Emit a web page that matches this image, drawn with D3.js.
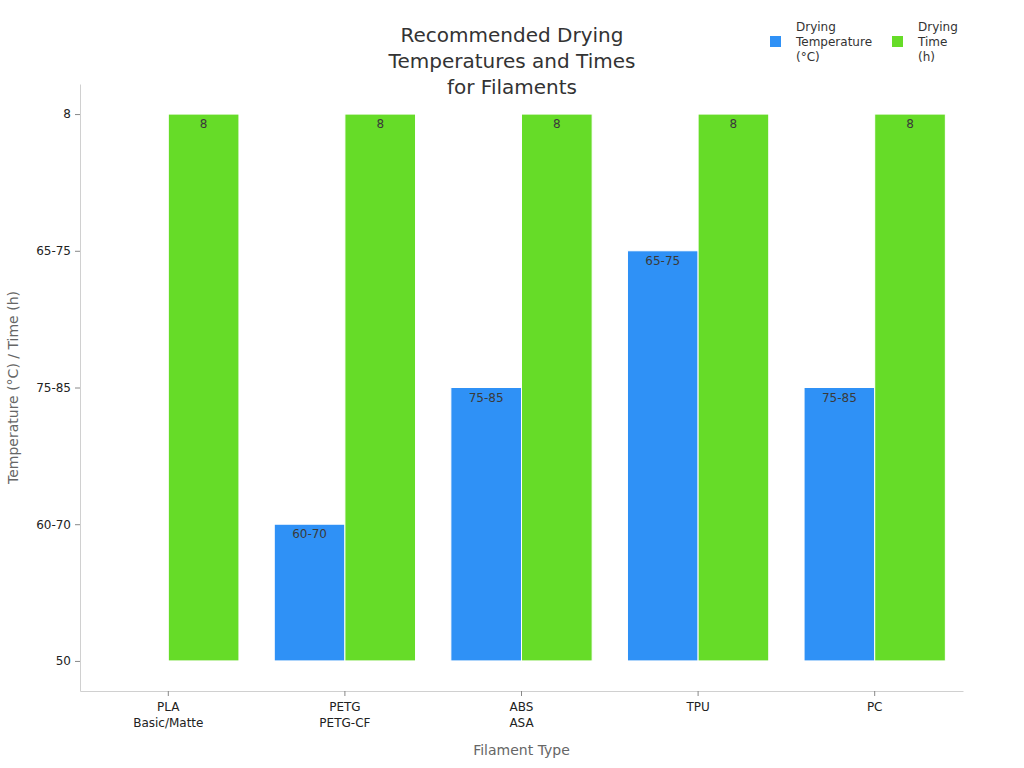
<!DOCTYPE html>
<html>
<head>
<meta charset="utf-8">
<script src="https://cdn.jsdelivr.net/npm/d3@7"></script>
<style>
  body { margin: 0; background: #fff; }
  text { font-family: "DejaVu Sans", sans-serif; }
</style>
</head>
<body>
<div id="chart"></div>
<script>
// data
const filaments = ["PLA\nBasic/Matte", "PETG\nPETG-CF", "ABS\nASA", "TPU", "PC"];
const levels = ["50", "60-70", "75-85", "65-75", "8"];   // y categories, bottom to top
const tempValues = ["50", "60-70", "75-85", "65-75", "75-85"];
const timeValues = ["8", "8", "8", "8", "8"];
const seriesNames = ["Drying Temperature (°C)", "Drying Time (h)"];
const colors = ["#2f91f6", "#66dc28"];

const width = 1024, height = 768;
const plotLeft = 80, plotRight = 963, plotTop = 84, plotBottom = 691;

const svg = d3.select("#chart").append("svg")
  .attr("width", width).attr("height", height);

const x = d3.scaleBand().domain(filaments).range([plotLeft, plotRight])
  .paddingInner(0.2).paddingOuter(0.1);
const sub = d3.scaleBand().domain([0, 1]).range([0, x.bandwidth()]);
const y = d3.scalePoint().domain(levels).range([plotBottom, plotTop]).padding(0.22);

// axes
const yAxis = svg.append("g").attr("transform", `translate(${plotLeft},0)`)
  .call(d3.axisLeft(y).tickSize(5).tickSizeOuter(0).tickPadding(4));
const xAxis = svg.append("g").attr("transform", `translate(0,${plotBottom})`)
  .call(d3.axisBottom(x).tickSize(5).tickSizeOuter(0).tickPadding(6));
[xAxis, yAxis].forEach(a => {
  a.select(".domain").attr("stroke", "#d0d0d0");
  a.selectAll(".tick line").attr("stroke", "#888");
  a.selectAll("text").attr("fill", "#222").style("font-size", "12px");
});
xAxis.selectAll(".tick text").each(function(d) {
  const t = d3.select(this).text(null);
  d.split("\n").forEach((s, i) => {
    t.append("tspan").attr("x", 0).attr("dy", i ? "1.35em" : "0.71em").text(s);
  });
});

// bars
const rows = filaments.map((f, i) => ({f, vals: [tempValues[i], timeValues[i]]}));
const groups = svg.append("g").selectAll("g").data(rows).join("g")
  .attr("transform", d => `translate(${x(d.f)},0)`);
const bars = groups.selectAll("g").data(d => d.vals.map((v, k) => ({v, k}))).join("g");
bars.append("rect")
  .attr("x", d => sub(d.k))
  .attr("width", sub.bandwidth())
  .attr("y", d => y(d.v))
  .attr("height", d => y(levels[0]) - y(d.v))
  .attr("fill", d => colors[d.k])
  .attr("stroke", "#fff").attr("stroke-width", 1);
bars.filter(d => d.v !== levels[0]).append("text")
  .attr("x", d => sub(d.k) + sub.bandwidth() / 2)
  .attr("y", d => y(d.v) + 14)
  .attr("text-anchor", "middle")
  .attr("fill", "#3a3a3a").style("font-size", "12px")
  .text(d => d.v);

// title
const title = ["Recommended Drying", "Temperatures and Times", "for Filaments"];
svg.append("text").attr("text-anchor", "middle").attr("fill", "#333")
  .style("font-size", "20px")
  .selectAll("tspan").data(title).join("tspan")
  .attr("x", 512).attr("y", (d, i) => 42 + i * 26).text(d => d);

// axis titles
svg.append("text").attr("x", (plotLeft + plotRight) / 2).attr("y", 755)
  .attr("text-anchor", "middle").attr("fill", "#666").style("font-size", "14px")
  .text("Filament Type");
svg.append("text").attr("transform", `translate(18,${(plotTop + plotBottom) / 2}) rotate(-90)`)
  .attr("text-anchor", "middle").attr("fill", "#666").style("font-size", "14px")
  .text("Temperature (°C) / Time (h)");

// legend
const legendLines = [["Drying", "Temperature", "(°C)"], ["Drying", "Time", "(h)"]];
const lg = svg.append("g").selectAll("g").data(legendLines).join("g")
  .attr("transform", (d, i) => `translate(${770 + i * 122},0)`);
lg.append("rect").attr("x", 0).attr("y", 36).attr("width", 11).attr("height", 11)
  .attr("fill", (d, i) => colors[i]);
lg.append("text").attr("fill", "#333").style("font-size", "12px")
  .selectAll("tspan").data(d => d).join("tspan")
  .attr("x", 26).attr("y", (d, i) => 31 + i * 15).text(d => d);
</script>
</body>
</html>
